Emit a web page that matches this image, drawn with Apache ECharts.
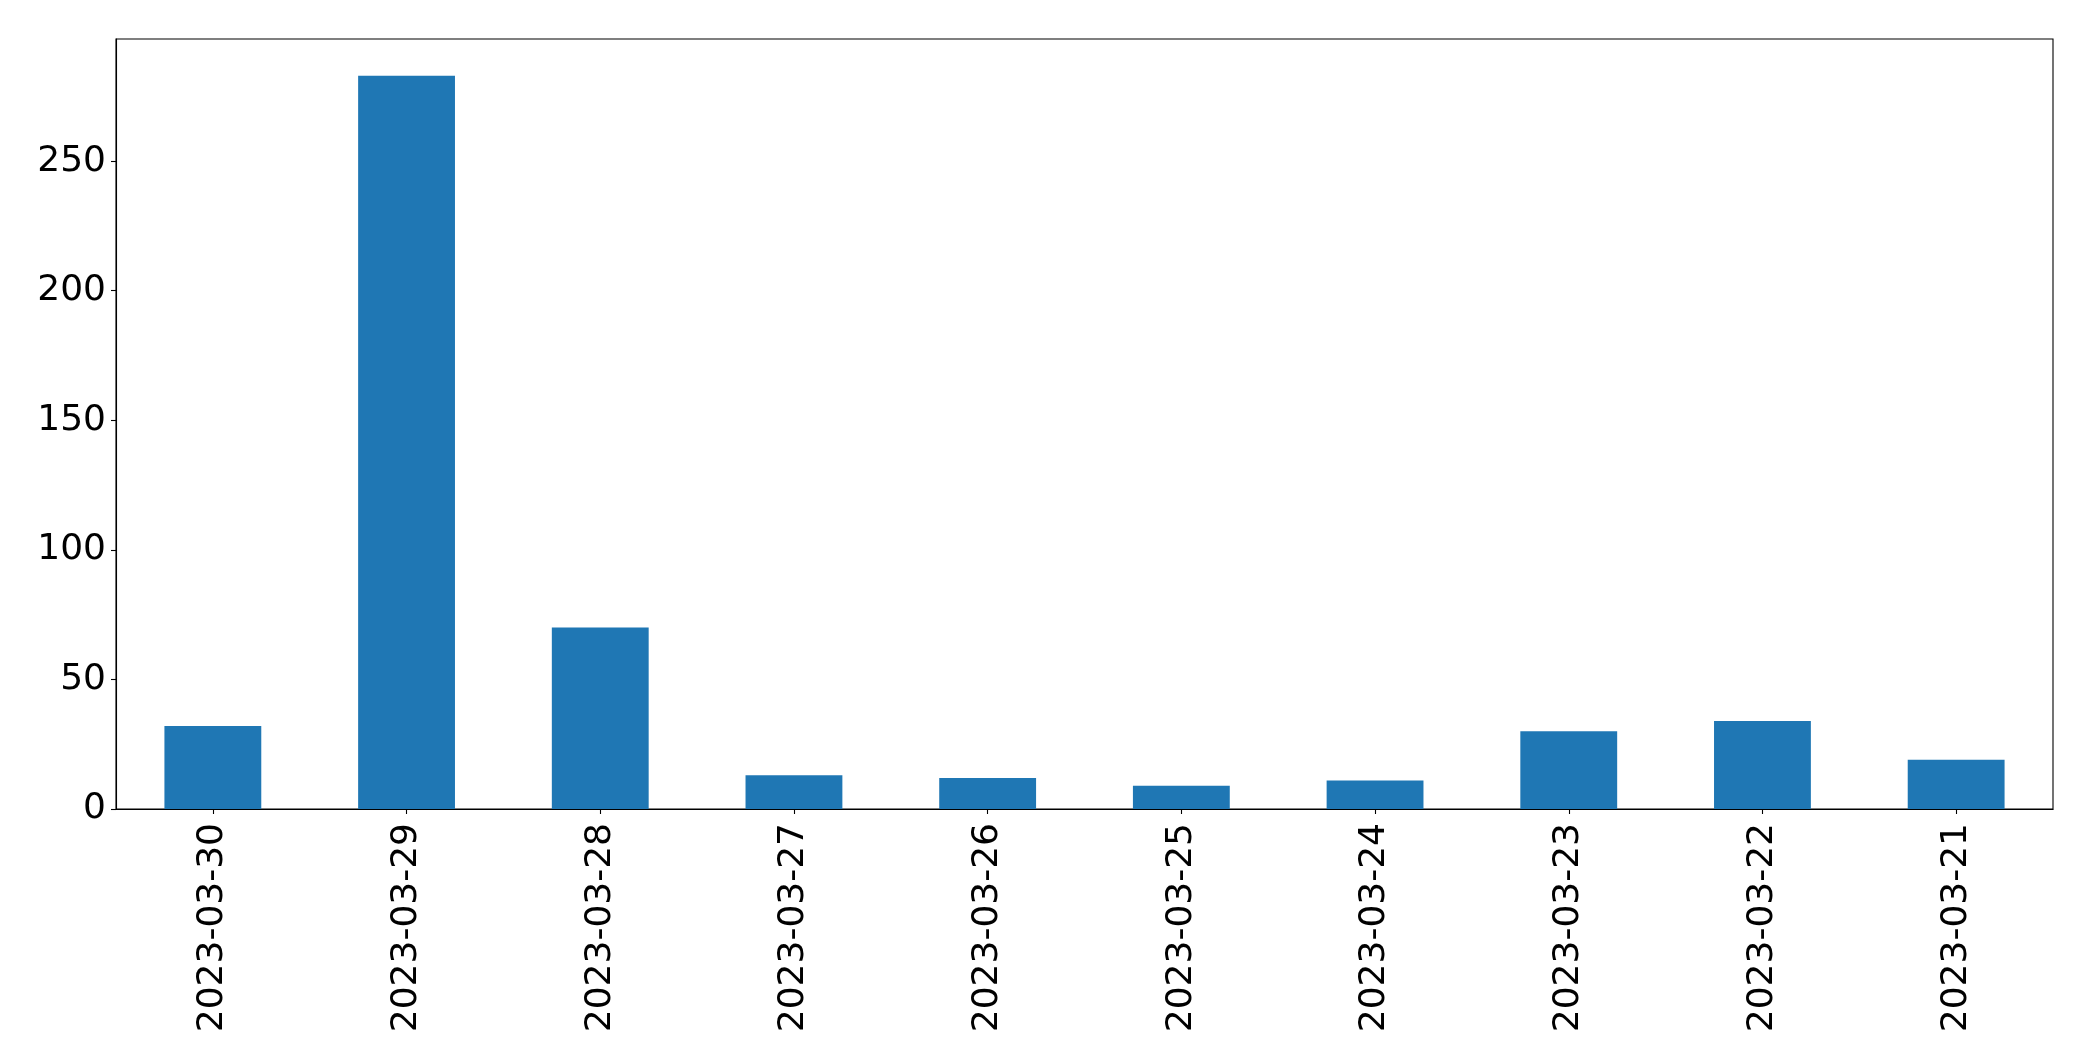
<!DOCTYPE html>
<html>
<head>
<meta charset="utf-8">
<script src="https://cdn.jsdelivr.net/npm/echarts@6/dist/echarts.min.js"></script>
<style>html,body{margin:0;padding:0;background:#fff;}#c{width:2093px;height:1061px;}</style>
</head>
<body>
<div id="c"></div>
<script>
const categories = ['2023-03-30','2023-03-29','2023-03-28','2023-03-27','2023-03-26','2023-03-25','2023-03-24','2023-03-23','2023-03-22','2023-03-21'];
const values = [32, 283, 70, 13, 12, 9, 11, 30, 34, 19];
const yTicks = [0, 50, 100, 150, 200, 250];

const chart = echarts.init(document.getElementById('c'), null, {renderer: 'canvas'});
const font = 'DejaVu Sans';
chart.setOption({
  animation: false,
  backgroundColor: '#ffffff',
  grid: {left: 116, right: 40, top: 39, bottom: 252, show: true, borderColor: '#000', borderWidth: 1.1, containLabel: false},
  xAxis: {
    type: 'category',
    data: categories,
    boundaryGap: true,
    axisLine: {show: true, lineStyle: {color: '#000', width: 1.1}},
    axisTick: {show: true, alignWithLabel: true, length: 5, lineStyle: {color: '#000', width: 1.1}},
    axisLabel: {rotate: 90, interval: 0, color: '#000', fontFamily: font, fontSize: 36, margin: 14}
  },
  yAxis: {
    type: 'value',
    min: 0,
    max: 297.15,
    interval: 50,
    splitLine: {show: false},
    axisLine: {show: true, lineStyle: {color: '#000', width: 1.1}},
    axisTick: {show: true, length: 5, customValues: yTicks, lineStyle: {color: '#000', width: 1.1}},
    axisLabel: {color: '#000', fontFamily: font, fontSize: 36, margin: 10, customValues: yTicks, padding: [8, 0, 0, 0]}
  },
  series: [{
    type: 'bar',
    data: values,
    barWidth: '50%',
    itemStyle: {color: '#1f77b4'}
  }]
});
</script>
</body>
</html>
